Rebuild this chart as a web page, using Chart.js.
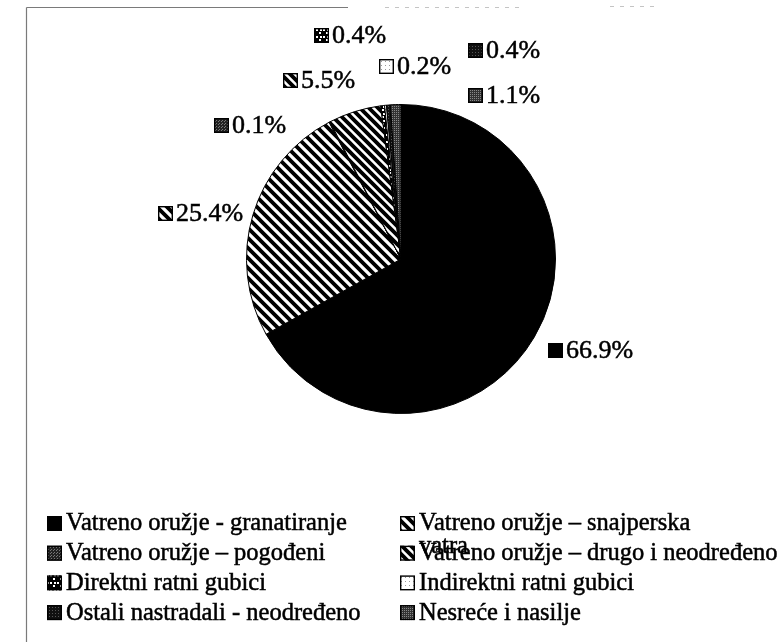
<!DOCTYPE html>
<html>
<head>
<meta charset="utf-8">
<script src="https://cdn.jsdelivr.net/npm/chart.js@4"></script>
<style>
  html, body { margin: 0; padding: 0; background: #fff; }
  #wrap { width: 780px; height: 642px; position: relative; }
</style>
</head>
<body>
<div id="wrap"><canvas id="c" width="780" height="642"></canvas></div>
<script>
// podaci (redoslijed kao u legendi, od 12 sati u smjeru kazaljke)
const categories = [
  'Vatreno oružje - granatiranje',
  'Vatreno oružje – snajperska',
  'Vatreno oružje – pogođeni',
  'Vatreno oružje – drugo i neodređeno',
  'Direktni ratni gubici',
  'Indirektni ratni gubici',
  'Ostali nastradali - neodređeno',
  'Nesreće i nasilje',
];
const shares = [66.9, 25.4, 0.1, 5.5, 0.4, 0.2, 0.4, 1.1];
const pctText = ['66.9%', '25.4%', '0.1%', '5.5%', '0.4%', '0.2%', '0.4%', '1.1%'];

// uzorci ispune (crno-bijeli, kao u skeniranom izvorniku)
function tile(n, paint) {
  const c = document.createElement('canvas');
  c.width = c.height = n;
  const g = c.getContext('2d');
  paint(g, n);
  return g.createPattern(c, 'repeat');
}
function diag(bg, fg, n, lw) {
  return tile(n, (g) => {
    g.fillStyle = bg; g.fillRect(0, 0, n, n);
    g.strokeStyle = fg; g.lineWidth = lw; g.beginPath();
    for (let k = -1; k <= 1; k++) { g.moveTo(-2, -2 + k * n); g.lineTo(n + 2, n + 2 + k * n); }
    g.stroke();
  });
}
function dots(bg, fg, n, pts, s) {
  return tile(n, (g) => {
    g.fillStyle = bg; g.fillRect(0, 0, n, n);
    g.fillStyle = fg;
    pts.forEach(([x, y]) => g.fillRect(x, y, s, s));
  });
}
const fills = [
  '#000',
  diag('#fff', '#000', 10, 3.8),
  dots('#222', '#777', 3, [[0, 0], [2, 1]], 1),
  diag('#fff', '#000', 9, 3.8),
  dots('#000', '#fff', 7, [[1, 1], [4, 4], [5, 1]], 2),
  dots('#fff', '#999', 4, [[1, 1]], 1),
  dots('#111', '#555', 3, [[1, 1]], 1),
  dots('#333', '#888', 2, [[0, 0]], 1),
];

const serif = "'Liberation Serif', 'Times New Roman', serif";

// bijela pozadina + ostaci okvira iz skena
const frame = {
  id: 'frame',
  beforeDraw(chart) {
    const g = chart.ctx;
    g.save();
    g.fillStyle = '#fff'; g.fillRect(0, 0, chart.width, chart.height);
    g.strokeStyle = '#7a7a7a'; g.lineWidth = 1.2;
    g.beginPath(); g.moveTo(26.5, 7.5); g.lineTo(26.5, chart.height); g.stroke();
    g.beginPath(); g.moveTo(26.5, 7.5); g.lineTo(348, 7.5); g.stroke();
    g.strokeStyle = '#c4c4c4'; g.setLineDash([4, 6]);
    g.beginPath(); g.moveTo(385, 7.5); g.lineTo(520, 7.5); g.moveTo(610, 6.5); g.lineTo(655, 6.5); g.stroke();
    g.restore();
  },
};

function swatch(g, i, x, y, s) {
  g.fillStyle = fills[i]; g.fillRect(x, y, s, s);
  g.strokeStyle = '#000'; g.lineWidth = 1.4; g.strokeRect(x + 0.7, y + 0.7, s - 1.4, s - 1.4);
}

// tekst malo podebljan, kao na skenu
function inkText(g, t, x, y) {
  g.fillStyle = '#000'; g.fillText(t, x, y);
  g.strokeStyle = '#000'; g.lineWidth = 0.5; g.strokeText(t, x, y);
}

// oznake postotaka uz kriške (pomak od središta pite: lijevi rub ikone, sredina visine)
const sliceLabels = {
  id: 'sliceLabels',
  afterDatasetsDraw(chart, args, opts) {
    const g = chart.ctx;
    const arcs = chart.getDatasetMeta(0).data;
    g.save();
    g.font = '26px ' + serif; g.textBaseline = 'middle';
    arcs.forEach((a, i) => {
      const [dx, dy] = opts.at[i];
      const x = a.x + dx, y = a.y + dy;
      swatch(g, i, x, y - 7, 15);
      inkText(g, pctText[i], x + 18, y + 1);
    });
    g.restore();
  },
};

// legenda u dva stupca ispod pite
const gridLegend = {
  id: 'gridLegend',
  afterDraw(chart, args, opts) {
    const g = chart.ctx;
    g.save();
    g.font = '24.5px ' + serif; g.textBaseline = 'middle';
    categories.forEach((name, i) => {
      const col = i % 2, row = Math.floor(i / 2);
      const x = opts.cols[col], y = opts.top + row * opts.step;
      swatch(g, i, x, y - 7, 15);
      inkText(g, name, x + 19, y + 1);
    });
    // prelomljeni nastavak druge stavke, preklapa se s četvrtom
    inkText(g, 'vatra', opts.cols[1] + 19, opts.top + opts.step - 6);
    g.restore();
  },
};

new Chart(document.getElementById('c'), {
  type: 'pie',
  data: {
    labels: categories,
    datasets: [{
      data: shares,
      backgroundColor: fills,
      borderColor: '#000',
      borderWidth: 1,
    }],
  },
  options: {
    responsive: false,
    animation: false,
    layout: { padding: { left: 246, right: 224, top: 104, bottom: 228 } },
    plugins: {
      legend: { display: false },
      tooltip: { enabled: false },
      sliceLabels: {
        at: [[147, 91], [-243, -46], [-187, -134], [-118, -179], [-87, -224], [-22, -193], [67, -209], [67, -164]],
      },
      gridLegend: { cols: [47, 400], top: 523, step: 29.7 },
    },
  },
  plugins: [frame, sliceLabels, gridLegend],
});
</script>
</body>
</html>
